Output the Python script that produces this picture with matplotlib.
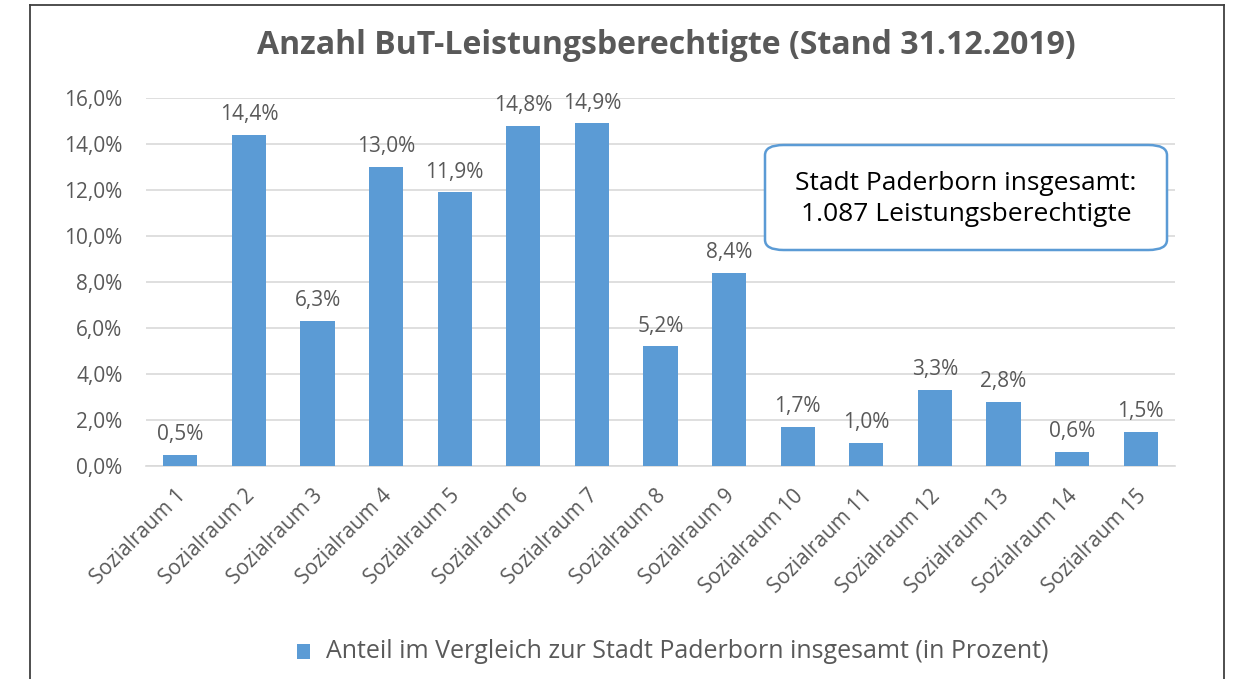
import matplotlib
matplotlib.use("Agg")
import matplotlib.pyplot as plt
from matplotlib.patches import FancyBboxPatch, Rectangle
from matplotlib.ticker import FuncFormatter
from matplotlib.transforms import ScaledTranslation

# data
categories = ["Sozialraum %d" % i for i in range(1, 16)]
anteil = [0.5, 14.4, 6.3, 13.0, 11.9, 14.8, 14.9, 5.2, 8.4, 1.7, 1.0, 3.3, 2.8, 0.6, 1.5]
yticks = [0, 2, 4, 6, 8, 10, 12, 14, 16]

title = "Anzahl BuT-Leistungsberechtigte (Stand 31.12.2019)"
box_text = "Stadt Paderborn insgesamt:\n1.087 Leistungsberechtigte"
legend_label = "Anteil im Vergleich zur Stadt Paderborn insgesamt (in Prozent)"

BLUE = "#5B9BD5"
GREY = "#595959"

plt.rcParams["font.family"] = ["Open Sans", "DejaVu Sans"]

fig = plt.figure(figsize=(12.39, 6.79), dpi=100)
ax = fig.add_axes([146 / 1239, 1 - 466 / 679, 1029 / 1239, 368 / 679])

x = list(range(len(categories)))
ax.bar(x, anteil, width=0.5, color=BLUE, zorder=3)
ax.set_xlim(-0.5, len(categories) - 0.5)
ax.set_ylim(0, 16)
ax.set_yticks(yticks)
ax.yaxis.set_major_formatter(FuncFormatter(lambda v, p: ("%.1f%%" % v).replace(".", ",")))
ax.grid(axis="y", color="#D9D9D9", linewidth=1.2, zorder=0)
for s in ["top", "right", "left"]:
    ax.spines[s].set_visible(False)
ax.spines["bottom"].set_color("#D9D9D9")
ax.spines["bottom"].set_linewidth(1.2)
ax.tick_params(axis="y", length=0, pad=17, labelsize=15, labelcolor=GREY)
ax.tick_params(axis="x", length=0, pad=14)
ax.set_xticks(x)
ax.set_xticklabels(categories, rotation=45, ha="right", va="top",
                   rotation_mode="anchor", fontsize=15, color=GREY)
shift = ScaledTranslation(-5 / 100, 0, fig.dpi_scale_trans)
for lbl in ax.get_xticklabels():
    lbl.set_transform(lbl.get_transform() + shift)

for xi, v in zip(x, anteil):
    ax.annotate(("%.1f%%" % v).replace(".", ","), (xi, v), xytext=(0, 7),
                textcoords="offset points", ha="center", va="bottom",
                fontsize=15, color=GREY)

fig.text(0.538, 1 - 45 / 679, title, ha="center", va="center",
         fontsize=23, fontweight="bold", color=GREY)

# info box
box = FancyBboxPatch((765 / 1239, 1 - 250 / 679), 402 / 1239, 105 / 679,
                     boxstyle="round,pad=0,rounding_size=0.015",
                     transform=fig.transFigure, facecolor="white",
                     edgecolor=BLUE, linewidth=1.8, zorder=5)
fig.patches.append(box)
fig.text(966 / 1239, 1 - 199 / 679, box_text, ha="center", va="center",
         fontsize=19, color="black", linespacing=1.35, zorder=6)

# legend
fig.patches.append(Rectangle((297 / 1239, 1 - 659 / 679), 13 / 1239, 15 / 679,
                             transform=fig.transFigure, facecolor=BLUE))
fig.text(326 / 1239, 1 - 651 / 679, legend_label, ha="left", va="center",
         fontsize=18, color=GREY)

# outer frame
for coords in [([30, 30], [5, 679]), ([30, 1224], [5, 5]), ([1224, 1224], [5, 679])]:
    fig.add_artist(plt.Line2D([c / 1239 for c in coords[0]],
                              [1 - c / 679 for c in coords[1]],
                              transform=fig.transFigure, color="#404040", linewidth=1.3))

fig.savefig("out.png", dpi=100)
